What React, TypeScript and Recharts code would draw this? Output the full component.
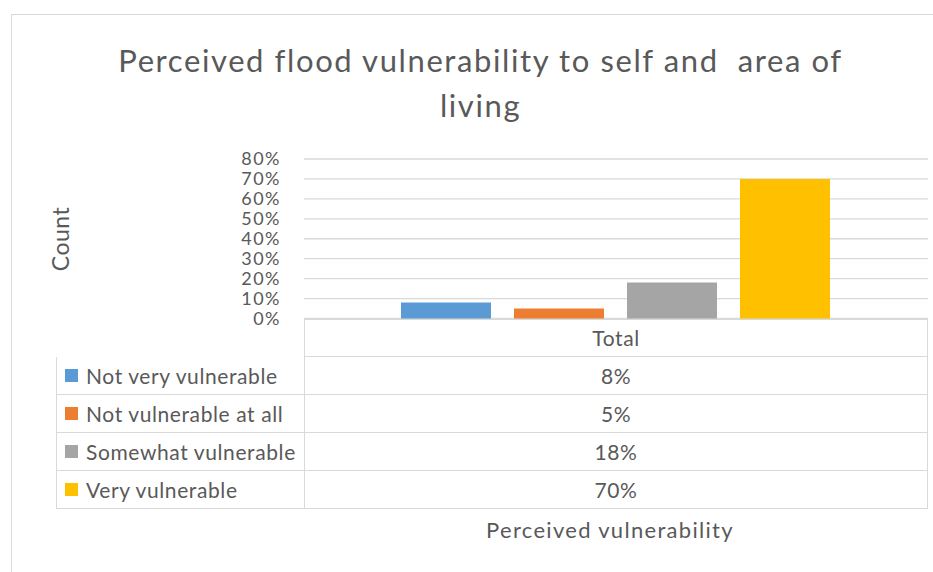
import { BarChart, Bar, XAxis, YAxis, CartesianGrid } from 'recharts'

// Share of respondents per answer, single "Total" group.
const categories = ['Total']
const seriesNames = ['Not very vulnerable', 'Not vulnerable at all', 'Somewhat vulnerable', 'Very vulnerable']
const seriesValues = [0.08, 0.05, 0.18, 0.7]
const seriesColors = ['#5B9BD5', '#ED7D31', '#A5A5A5', '#FFC000']
const yTicks = [0, 0.1, 0.2, 0.3, 0.4, 0.5, 0.6, 0.7, 0.8]

const TEXT = '#595959'
const LINE = '#D9D9D9'
const FONT = 'Lato, "Noto Sans", sans-serif'

const pct = (v: number) => `${Math.round(v * 100)}%`

const chartData = categories.map(name => {
  const row: Record<string, string | number> = { name }
  seriesNames.forEach((s, i) => { row[s] = seriesValues[i] })
  return row
})

// plot box, shared by the chart and the data table below it
const PLOT_LEFT = 304
const PLOT_RIGHT = 928
const PLOT_TOP = 159
const PLOT_BOTTOM = 318.5
const ROW_H = 38
const TABLE_LEFT = 56

function DataTable() {
  const cell = (left: number, top: number, width: number): React.CSSProperties => ({
    position: 'absolute',
    left,
    top,
    width,
    height: ROW_H,
    boxSizing: 'border-box',
    display: 'flex',
    alignItems: 'center',
    color: TEXT,
    fontSize: 21,
    letterSpacing: 0.6,
    whiteSpace: 'nowrap',
  })
  const colW = PLOT_RIGHT - PLOT_LEFT
  return (
    <div style={{ position: 'absolute', left: 0, top: 0 }}>
      {/* header: category row */}
      <div style={{ ...cell(PLOT_LEFT, PLOT_BOTTOM, colW), border: `1.5px solid ${LINE}`, justifyContent: 'center' }}>
        {categories[0]}
      </div>
      {seriesNames.map((s, i) => {
        const top = PLOT_BOTTOM + ROW_H * (i + 1)
        return (
          <div key={s}>
            <div style={{ ...cell(TABLE_LEFT, top, PLOT_LEFT - TABLE_LEFT), border: `1.5px solid ${LINE}`, borderRight: 'none', borderTop: 'none', paddingLeft: 8 }}>
              <span style={{ display: 'inline-block', width: 13, height: 13, background: seriesColors[i], marginRight: 8 }} />
              {s}
            </div>
            <div style={{ ...cell(PLOT_LEFT, top, colW), border: `1.5px solid ${LINE}`, borderTop: 'none', justifyContent: 'center' }}>
              {pct(seriesValues[i])}
            </div>
          </div>
        )
      })}
      <div style={{ position: 'absolute', left: PLOT_LEFT - 6, width: colW, top: 516, textAlign: 'center', color: TEXT, fontSize: 22, letterSpacing: 1.3 }}>
        Perceived vulnerability
      </div>
    </div>
  )
}

export default function App() {
  return (
    <div style={{ position: 'absolute', left: 0, top: 0, width: 933, height: 572, background: '#fff', fontFamily: FONT, overflow: 'hidden' }}>
      {/* chart frame, cropped on the right and bottom */}
      <div style={{ position: 'absolute', left: 11, top: 14, width: 940, height: 580, border: `1.5px solid ${LINE}`, boxSizing: 'border-box' }} />
      <div style={{ position: 'absolute', left: 0, width: 961, top: 38, textAlign: 'center', color: TEXT, fontSize: 31, lineHeight: '45px', letterSpacing: 1.6 }}>
        <div>Perceived flood vulnerability to self and&nbsp; area of</div>
        <div>living</div>
      </div>
      {/* value axis title */}
      <div style={{ position: 'absolute', left: 60, top: 239, color: TEXT, fontSize: 23, letterSpacing: 0.5, transform: 'translate(-50%, -50%) rotate(-90deg)', whiteSpace: 'nowrap' }}>
        Count
      </div>
      <div style={{ position: 'absolute', left: 0, top: 0 }}>
        <BarChart
          width={933}
          height={340}
          data={chartData}
          margin={{ top: PLOT_TOP, left: PLOT_LEFT - 80, right: 933 - PLOT_RIGHT, bottom: 340 - PLOT_BOTTOM }}
          barCategoryGap={97}
          barGap={23}
          style={{ fontFamily: FONT }}
        >
          <CartesianGrid vertical={false} stroke={LINE} strokeWidth={1.3} />
          <XAxis dataKey="name" hide />
          <YAxis
            width={80}
            domain={[0, 0.8]}
            ticks={yTicks}
            tickFormatter={pct}
            axisLine={false}
            tickLine={false}
            tickSize={0}
            tickMargin={23}
            interval={0}
            tick={{ fill: TEXT, fontSize: 18, letterSpacing: 1.5 }}
          />
          {seriesNames.map((s, i) => (
            <Bar key={s} dataKey={s} fill={seriesColors[i]} isAnimationActive={false} />
          ))}
        </BarChart>
      </div>
      <DataTable />
    </div>
  )
}
